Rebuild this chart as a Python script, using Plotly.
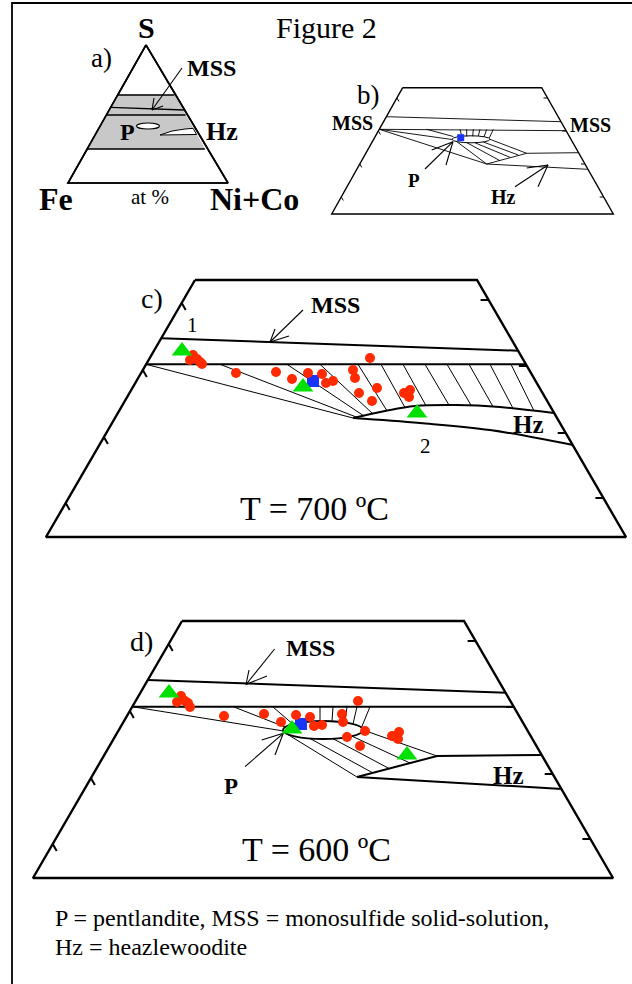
import plotly.graph_objects as go

FONT = "Liberation Serif, Times New Roman, serif"

# ---------------- frame ----------------
frame_x = [632, 12, 12]
frame_y = [3, 3, 984]

# ---------------- panel a) ----------------
a_tri_x = [146, 228, 68, 146]
a_tri_y = [45, 183, 183, 45]
a_band_x = [117.7, 174.3, 204.8, 87.2, 117.7]
a_band_y = [95, 95, 149, 149, 95]
a_segs = [(117.7, 95, 174.3, 95), (87.2, 149, 204.8, 149),
          (110.8, 107.3, 184.0, 110.0), (106.4, 115, 185.6, 115)]
a_arrow = [(182, 68, 152, 110), (152, 110, 154, 98), (152, 110, 163, 106)]
a_hz_x = [160, 172, 185, 193.1, 196.6, 160]
a_hz_y = [135, 131, 129, 128.3, 134.5, 135]
a_ellipse = (148, 126, 11.5, 3)

# ---------------- panel b) ----------------
b_trap_x = [402.7, 541.7, 613.3, 331.7, 402.7]
b_trap_y = [87.7, 87.7, 214, 214, 87.7]
b_segs = [(386.4, 116.7, 561.0, 121.7), (379.3, 129.3, 566.0, 130.7),
          (379.3, 129.3, 452.0, 139.5), (379.3, 129.3, 486.7, 164.0),
          (426.7, 129.3, 453.3, 136.5),
          (460.0, 129.3, 461.7, 135.8), (466.7, 129.3, 466.7, 136.4),
          (473.3, 129.3, 472.7, 136.3), (480.0, 129.3, 478.3, 136.0),
          (486.7, 129.3, 484.0, 137.0), (493.3, 129.3, 489.3, 138.0),
          (456.7, 141.6, 486.7, 164.0), (466.7, 142.6, 500.0, 160.7),
          (475.0, 142.8, 510.0, 157.3), (483.3, 142.0, 518.3, 155.0),
          (490.0, 139.3, 526.7, 153.3),
          (486.7, 164.0, 526.7, 153.3), (526.7, 153.3, 578.5, 152.7),
          (486.7, 164.0, 587.8, 169.3)]
b_arrows = [(425, 169, 453, 141.7), (453, 141.7, 431.7, 150), (453, 141.7, 446, 165),
            (515, 186.7, 548, 165), (548, 165, 526.7, 168), (548, 165, 538, 186.7)]
b_ticks_left = [(396.9, 98), (378.4, 131), (359.8, 164), (341.3, 197)]
b_ticks_right = [(547.5, 98), (566.3, 131), (585.0, 164), (603.7, 197)]
b_ellipse = (471, 139.3, 19, 3.5)
b_blue = ([460.7], [137.7])

# ---------------- panel c) T = 700 C ----------------
c_trap_x = [195, 477, 626, 46, 195]
c_trap_y = [280, 280, 537, 537, 280]
c_mss = [(161.2, 338.3, 518.0, 350.7), (146.0, 364.3, 526.0, 364.3)]
c_arrow = [(303, 310, 270, 342), (270, 342, 275, 329), (270, 342, 289, 336)]
c_tie_top_x = [146, 220, 287, 320, 358, 381, 403, 425, 447, 469, 490, 511]
c_tie_top_y = 364.3
c_tie_bot_x = [353, 357, 364, 373, 387, 405, 426, 449, 471, 493, 513, 534]
c_tie_bot_y = [418, 417.3, 416.0, 414.0, 410.8, 407.5, 405.7, 405.1, 405.2, 406.7, 408.4, 410.8]
c_hz_up_x = [353, 385, 415, 456, 500, 554]
c_hz_up_y = [418, 411, 406, 405, 407, 413]
c_hz_lo_x = [353, 420, 490, 573]
c_hz_lo_y = [418, 423, 430, 445]
c_ticks_left = [(181.7, 303), (142.8, 370), (103.9, 437), (65.7, 503)]
c_ticks_right = [(488.6, 300), (526.9, 366), (565.7, 433), (603.4, 498)]
c_red_x = [193, 190, 197, 200, 202, 236, 276, 292, 308, 322, 333, 326,
           370, 353, 355, 377, 359, 372, 410, 404, 409]
c_red_y = [355, 360, 359, 362, 364, 373, 372, 379, 373, 374, 381, 383,
           358, 370, 378, 388, 393, 401, 390, 393, 397]
c_green_x = [182, 303, 417]
c_green_y = [351, 387, 413]
c_blue_x = [313]
c_blue_y = [381]

# ---------------- panel d) T = 600 C ----------------
d_trap_x = [182, 464, 613, 33, 182]
d_trap_y = [621, 621, 878, 878, 621]
d_mss = [(147.8, 680, 506.0, 692.7), (132.3, 706.7, 513.7, 706.7)]
d_arrow = [(274.6, 649, 246, 684.5), (246, 684.5, 249, 670), (246, 684.5, 267, 676)]
d_fan = [(132.3, 706.7, 283.5, 731.0), (234, 707, 285, 727), (273, 707, 291, 722.5)]
d_vert = [(320, 706.7, 320, 721), (333, 706.7, 332, 721.3), (347, 706.7, 345, 722.3),
          (357, 706.7, 353, 724), (370, 706.7, 361.5, 727.5)]
d_ties = [(287, 734, 357, 777), (310, 738.5, 373, 773), (333, 738.7, 390, 769),
          (352, 736.2, 410, 763), (363, 730, 437, 756)]
d_hz_up_x = [357, 437, 541.7]
d_hz_up_y = [777, 756, 755]
d_hz_lo_x = [357, 562]
d_hz_lo_y = [777, 789]
d_p_arrow = [(245, 766.7, 283.3, 733.3), (283.3, 733.3, 261.7, 740), (283.3, 733.3, 275, 755)]
d_ellipse = (323, 730, 40, 9)
d_ticks_left = [(168.7, 644), (129.8, 711), (90.9, 778), (52.7, 844)]
d_ticks_right = [(475.6, 641), (513.9, 707), (552.7, 774), (590.4, 839)]
d_red_x = [181, 177, 185, 188, 190, 224, 264, 281, 296, 310, 314, 322,
           342, 343, 358, 365, 347, 360, 392, 399, 398]
d_red_y = [696, 702, 701, 703, 707, 716, 714, 722, 715, 717, 726, 725,
           714, 722, 701, 731, 737, 746, 736, 732, 739]
d_green_x = [169, 292, 407]
d_green_y = [693, 729, 755]
d_blue_x = [301]
d_blue_y = [724]

RED = "#ff2a00"
GREEN = "#00e000"
BLUE = "#1a33ff"

fig = go.Figure()


def seg_trace(segs, width, color="black"):
    xs, ys = [], []
    for x0, y0, x1, y1 in segs:
        xs += [x0, x1, None]
        ys += [y0, y1, None]
    fig.add_trace(go.Scatter(x=xs, y=ys, mode="lines", hoverinfo="skip",
                             line=dict(color=color, width=width)))


def poly_trace(xs, ys, width, fill=None):
    fig.add_trace(go.Scatter(x=xs, y=ys, mode="lines", hoverinfo="skip",
                             fill="toself" if fill else None, fillcolor=fill,
                             line=dict(color="black", width=width)))


def ticks(left, right, ll, lr, width):
    segs = [(x, y, x + ll * 0.5, y + ll * 0.866) for x, y in left]
    segs += [(x, y, x - lr, y) for x, y in right]
    seg_trace(segs, width)


def ellipse(e, width, layer="above"):
    cx, cy, a, b = e
    fig.add_shape(type="circle", xref="x", yref="y", x0=cx - a, x1=cx + a,
                  y0=cy - b, y1=cy + b, line=dict(color="black", width=width),
                  fillcolor="white", layer=layer)


def markers(xs, ys, symbol, size, color):
    fig.add_trace(go.Scatter(x=xs, y=ys, mode="markers", hoverinfo="skip",
                             marker=dict(symbol=symbol, size=size, color=color,
                                         line=dict(width=0))))


# frame
poly_trace(frame_x, frame_y, 1.8)

# a)
poly_trace(a_tri_x, a_tri_y, 1.6, fill="white")
poly_trace(a_band_x, a_band_y, 0.1, fill="#c8c8c8")
poly_trace(a_tri_x, a_tri_y, 1.6)
seg_trace(a_segs, 1.3)
seg_trace(a_arrow, 1.1)
poly_trace(a_hz_x, a_hz_y, 1.0, fill="white")

# b)
poly_trace(b_trap_x, b_trap_y, 1.4)
seg_trace(b_segs, 0.9)
seg_trace(b_arrows, 1.1)
ticks(b_ticks_left, b_ticks_right, 4, 4, 1)

# c)
poly_trace(c_trap_x, c_trap_y, 2.4)
seg_trace(c_mss, 2)
seg_trace(c_arrow, 1.1)
seg_trace([(tx, c_tie_top_y, bx, by) for tx, bx, by in zip(c_tie_top_x, c_tie_bot_x, c_tie_bot_y)], 1)
fig.add_trace(go.Scatter(x=c_hz_up_x, y=c_hz_up_y, mode="lines", line=dict(color="black", width=2, shape="spline"), hoverinfo="skip"))
fig.add_trace(go.Scatter(x=c_hz_lo_x, y=c_hz_lo_y, mode="lines", line=dict(color="black", width=2, shape="spline"), hoverinfo="skip"))
ticks(c_ticks_left, c_ticks_right, 8, 8, 2)

# d)
poly_trace(d_trap_x, d_trap_y, 2.4)
seg_trace(d_mss, 2)
seg_trace(d_arrow, 1.1)
seg_trace(d_fan, 1)
seg_trace(d_vert, 1)
seg_trace(d_ties, 1)
seg_trace(d_p_arrow, 1.1)
fig.add_trace(go.Scatter(x=d_hz_up_x, y=d_hz_up_y, mode="lines", line=dict(color="black", width=2), hoverinfo="skip"))
fig.add_trace(go.Scatter(x=d_hz_lo_x, y=d_hz_lo_y, mode="lines", line=dict(color="black", width=2), hoverinfo="skip"))
ticks(d_ticks_left, d_ticks_right, 8, 8, 2)

# markers
markers(b_blue[0], b_blue[1], "square", 7, BLUE)
markers(c_blue_x, c_blue_y, "square", 12, BLUE)
markers(c_red_x, c_red_y, "circle", 10, RED)
markers(c_green_x, c_green_y, "triangle-up", 18, GREEN)
markers(d_blue_x, d_blue_y, "square", 12, BLUE)
markers(d_red_x, d_red_y, "circle", 10, RED)
markers(d_green_x, d_green_y, "triangle-up", 18, GREEN)

# ellipses
ellipse(a_ellipse, 1.1, "above")
ellipse(b_ellipse, 1.0, "below")
cx, cy, a, b = d_ellipse
fig.add_shape(type="circle", xref="x", yref="y", x0=cx - a, x1=cx + a, y0=cy - b, y1=cy + b,
              line=dict(color="black", width=2), layer="below")

# texts: (x, y, text, size, anchor)
labels = [
    (326, 27, "Figure 2", 30, "center"),
    (146, 27, "<b>S</b>", 30, "center"),
    (101, 58, "a)", 27, "center"),
    (211, 68, "<b>MSS</b>", 24, "center"),
    (127, 132, "<b>P</b>", 24, "center"),
    (222, 131, "<b>Hz</b>", 26, "center"),
    (56, 199, "<b>Fe</b>", 32, "center"),
    (150, 197, "at %", 21, "center"),
    (254, 199, "<b>Ni+Co</b>", 32, "center"),
    (368, 95, "b)", 27, "center"),
    (352, 123, "<b>MSS</b>", 20, "center"),
    (590, 125, "<b>MSS</b>", 20, "center"),
    (414, 180, "<b>P</b>", 19, "center"),
    (503, 197, "<b>Hz</b>", 20, "center"),
    (152, 298, "c)", 28, "center"),
    (335, 305, "<b>MSS</b>", 24, "center"),
    (192, 325, "1", 21, "center"),
    (425, 446, "2", 21, "center"),
    (528, 424, "<b>Hz</b>", 25, "center"),
    (314, 508, "T = 700 ºC", 34, "center"),
    (141, 641, "d)", 28, "center"),
    (310, 648, "<b>MSS</b>", 24, "center"),
    (231, 786, "<b>P</b>", 23, "center"),
    (508, 775, "<b>Hz</b>", 25, "center"),
    (316, 849, "T = 600 ºC", 34, "center"),
    (53, 918, "P = pentlandite, MSS = monosulfide solid-solution,", 24, "left"),
    (53, 947, "Hz = heazlewoodite", 24, "left"),
]
for x, y, t, s, anc in labels:
    fig.add_annotation(x=x, y=y, text=t, showarrow=False, xanchor=anc, yanchor="middle",
                       font=dict(family=FONT, size=s, color="black"))

fig.update_layout(
    width=632, height=984, margin=dict(l=0, r=0, t=0, b=0),
    paper_bgcolor="white", plot_bgcolor="white", showlegend=False,
    xaxis=dict(range=[0, 632], visible=False, fixedrange=True),
    yaxis=dict(range=[984, 0], visible=False, fixedrange=True),
)
fig.write_html("out.html", config={"displayModeBar": False},
               post_script="document.body.style.margin='0px';document.body.style.overflow='hidden';")
